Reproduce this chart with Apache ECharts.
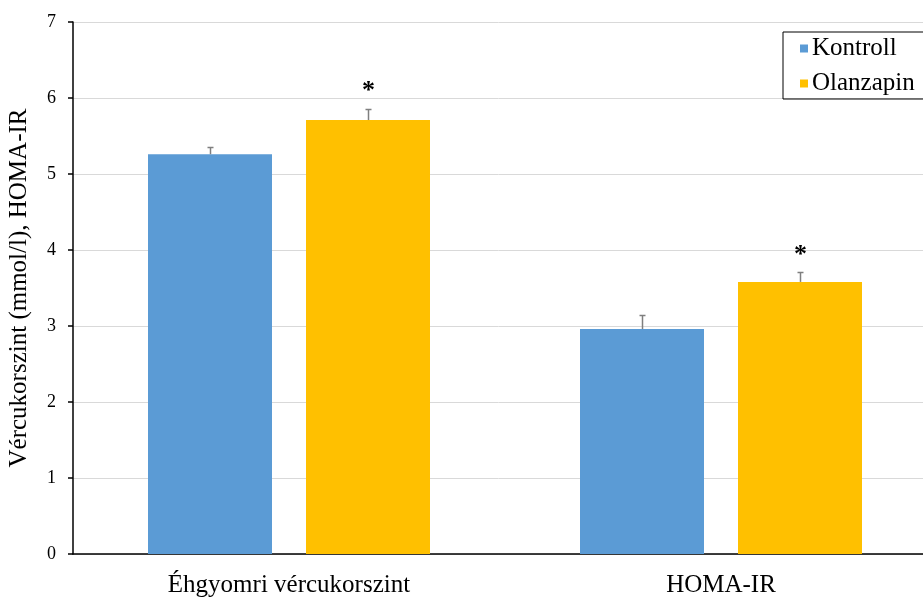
<!DOCTYPE html>
<html>
<head>
<meta charset="utf-8">
<script src="https://cdn.jsdelivr.net/npm/echarts@6/dist/echarts.min.js"></script>
<style>
html,body{margin:0;padding:0;background:#fff;}
#chart{width:923px;height:597px;}
</style>
</head>
<body>
<div id="chart"></div>
<script>
const categories = ['Éhgyomri vércukorszint', 'HOMA-IR'];
const seriesNames = ['Kontroll', 'Olanzapin'];
const kontroll = [5.26, 2.96];
const kontrollErr = [0.09, 0.18];
const olanzapin = [5.71, 3.58];
const olanzapinErr = [0.15, 0.13];
const kontrollSig = ['', ''];
const olanzapinSig = ['*', '*'];
const yTicks = [0, 1, 2, 3, 4, 5, 6, 7];

const FONT = '"Liberation Serif", "Times New Roman", serif';
const BAR_W = 124;
const BAR_GAP = 34;
const colors = ['#5B9BD5', '#FFC000'];

function errData(vals, errs, sig) {
  return vals.map((v, i) => [i, v, errs[i], sig[i]]);
}

function makeErrRender(side) {
  return function (params, api) {
    const idx = api.value(0);
    const val = api.value(1);
    const err = api.value(2);
    const sig = api.value(3);
    const off = side * (BAR_W + BAR_GAP) / 2;
    const base = api.coord([idx, val]);
    const top = api.coord([idx, val + err]);
    const x = Math.round(base[0] + off) + 0.5;
    const yt = Math.round(top[1]) + 0.5;
    const children = [
      { type: 'line', shape: { x1: x, y1: base[1], x2: x, y2: yt },
        style: { stroke: '#7f7f7f', lineWidth: 1.5 } },
      { type: 'line', shape: { x1: x - 3, y1: yt, x2: x + 3, y2: yt },
        style: { stroke: '#7f7f7f', lineWidth: 1.5 } }
    ];
    if (sig) {
      children.push({ type: 'text', style: { text: sig, x: x, y: top[1] - 4,
        textAlign: 'center', textVerticalAlign: 'bottom',
        font: 'bold 26px ' + FONT, fill: '#000' } });
    }
    return { type: 'group', children: children };
  };
}

const chart = echarts.init(document.getElementById('chart'));
chart.setOption({
  animation: false,
  backgroundColor: '#fff',
  grid: { left: 73, top: 22, width: 864, bottom: 43, containLabel: false, outerBoundsMode: 'none' },
  legend: {
    data: seriesNames,
    orient: 'vertical',
    left: 783, top: 32,
    borderColor: '#000', borderWidth: 1,
    padding: [4, 28, 3, 17],
    itemGap: 10,
    icon: 'rect', itemWidth: 8, itemHeight: 8,
    textStyle: { fontFamily: FONT, fontSize: 25, lineHeight: 25, color: '#000', padding: [0, 0, 0, -1] }
  },
  xAxis: {
    type: 'category',
    data: categories,
    axisLine: { lineStyle: { color: '#000', width: 1.5 } },
    axisTick: { show: false },
    axisLabel: { fontFamily: FONT, fontSize: 25, color: '#000', margin: 19 }
  },
  yAxis: {
    type: 'value',
    min: yTicks[0], max: yTicks[yTicks.length - 1], interval: 1,
    name: 'Vércukorszint (mmol/l), HOMA-IR',
    nameLocation: 'middle', nameGap: 41,
    nameTextStyle: { fontFamily: FONT, fontSize: 25, color: '#000' },
    axisLine: { show: true, lineStyle: { color: '#000', width: 1.5 } },
    axisTick: { show: true, length: 5, lineStyle: { color: '#000', width: 1.5 } },
    axisLabel: { fontFamily: FONT, fontSize: 18, color: '#000', margin: 17 },
    splitLine: { lineStyle: { color: '#d9d9d9', width: 1 } }
  },
  series: [
    { name: seriesNames[0], type: 'bar', data: kontroll, barWidth: BAR_W,
      barGap: (BAR_GAP / BAR_W * 100) + '%', itemStyle: { color: colors[0] } },
    { name: seriesNames[1], type: 'bar', data: olanzapin, barWidth: BAR_W,
      itemStyle: { color: colors[1] } },
    { type: 'custom', renderItem: makeErrRender(-1), data: errData(kontroll, kontrollErr, kontrollSig),
      encode: { x: 0, y: 1 }, z: 10, silent: true },
    { type: 'custom', renderItem: makeErrRender(1), data: errData(olanzapin, olanzapinErr, olanzapinSig),
      encode: { x: 0, y: 1 }, z: 10, silent: true }
  ]
});
</script>
</body>
</html>
